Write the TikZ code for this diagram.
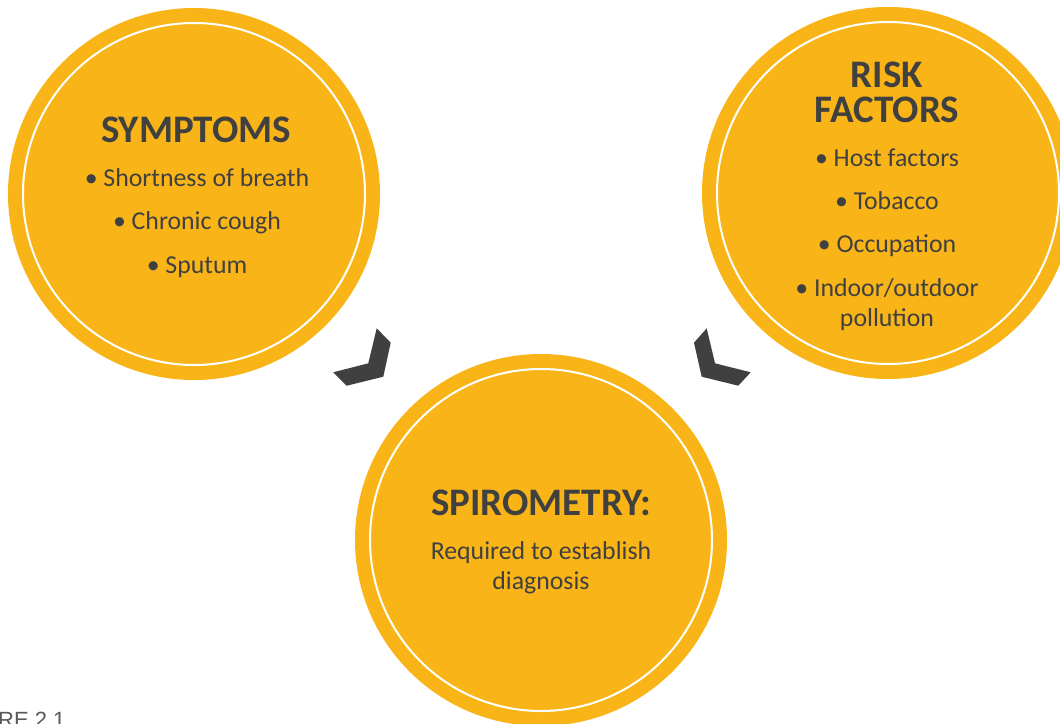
\documentclass[tikz,border=0pt]{standalone}
\usepackage{fontspec}
\setmainfont{Carlito}
\newfontfamily\captionfont{Liberation Sans}
\definecolor{discfill}{HTML}{F9B517}
\definecolor{ink}{HTML}{404040}
\definecolor{chev}{HTML}{404040}
\definecolor{captiongray}{HTML}{595959}
\begin{document}
\begin{tikzpicture}[x=1pt,y=-1pt,
  disc/.style={circle, fill=discfill, minimum size=372pt, inner sep=0pt},
  ring/.style={draw=white, line width=2pt},
  heading/.style={anchor=base, text=ink, inner sep=0pt, font=\fontsize{39}{35}\selectfont\bfseries},
  item/.style={anchor=base, text=ink, inner sep=0pt, font=\fontsize{25.8}{30}\selectfont},
  chevron/.style={fill=chev}]
\clip (0,0) rectangle (1060,723);
\fill[white] (0,0) rectangle (1060,723);

% three discs with an inner white ring
\node[disc] (symptoms) at (194,194) {};
\node[disc] (risk) at (888,193) {};
\node[disc] (spiro) at (541,540) {};
\foreach \d in {symptoms,risk,spiro}
  \draw[ring] (\d.center) circle[radius=171pt];

% symptoms
\node[heading] (symTitle) at (196,142) {SYMPTOMS};
\node[item] (sym1) at (197,186) {• Shortness of breath};
\node[item] (sym2) at (197,229) {• Chronic cough};
\node[item] (sym3) at (197,273) {• Sputum};

% risk factors
\node[heading, align=center] (riskTitle) at (887,122) {RISK\\FACTORS};
\node[item] (risk1) at (887,166) {• Host factors};
\node[item] (risk2) at (887,209) {• Tobacco};
\node[item] (risk3) at (887,252) {• Occupation};
\node[item] (risk4) at (887,296) {• Indoor/outdoor};
\node[item] (risk5) at (887,326) {pollution};

% spirometry
\node[heading] (spiroTitle) at (541,515) {SPIROMETRY:};
\node[item] (spiro1) at (541,559) {Required to establish};
\node[item] (spiro2) at (541,589) {diagnosis};

% chevrons pointing towards the spirometry disc
\fill[chevron] (376.7,328.3) -- (390.7,342.7) -- (383.3,376.7) -- (346.7,385.7)
  -- (333.3,372.3) -- (368.3,363.3) -- cycle;
\fill[chevron] (706.7,328.3) -- (694,342.7) -- (701.7,376.7) -- (738.3,385.7)
  -- (750.7,372.3) -- (715,363.3) -- cycle;

% caption, cut by the lower edge
\node[anchor=base west, inner sep=0pt, text=captiongray,
  font=\captionfont\fontsize{22}{24}\selectfont] (caption) at (-2,727) {RE 2.1};
\end{tikzpicture}
\end{document}
